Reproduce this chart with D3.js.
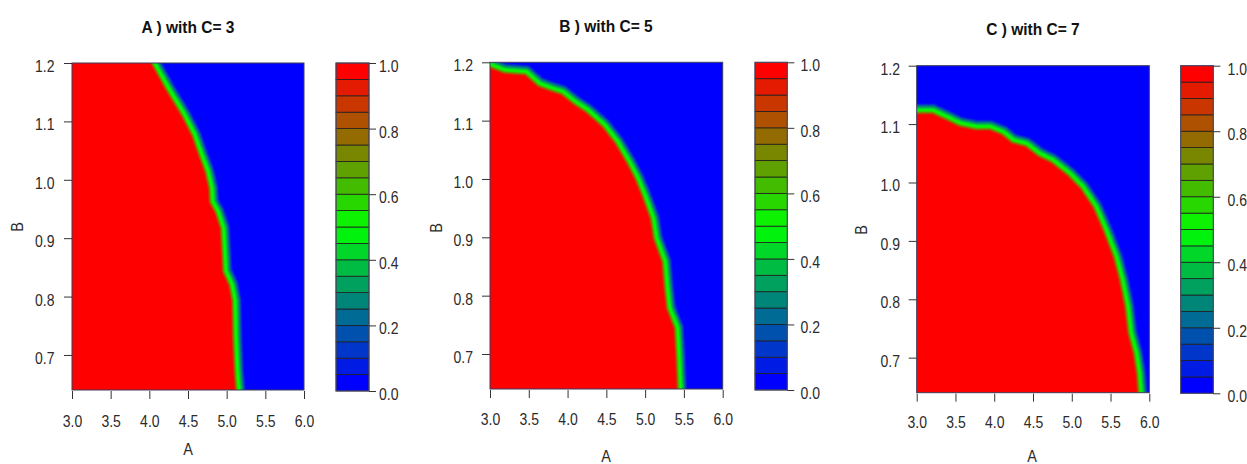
<!DOCTYPE html>
<html>
<head>
<meta charset="utf-8">
<script src="https://cdn.jsdelivr.net/npm/d3@7"></script>
<style>
  html, body { margin: 0; padding: 0; background: #ffffff; overflow: hidden; }
  svg { display: block; }
  text { font-family: "Liberation Sans", Arial, sans-serif; }
</style>
</head>
<body>
<svg id="chart" width="1247" height="464"></svg>
<script>
// ---- data ----------------------------------------------------------------
const panelTitles = ["A ) with C= 3", "B ) with C= 5", "C ) with C= 7"];
const xTicks = [3.0, 3.5, 4.0, 4.5, 5.0, 5.5, 6.0];
const yTicks = [0.7, 0.8, 0.9, 1.0, 1.1, 1.2];
const legendTicks = [0.0, 0.2, 0.4, 0.6, 0.8, 1.0];
const xDomain = [3.0, 6.0];
const yDomain = [0.64, 1.2];
const levelCount = 20;

// Edge of the region where the response is 1 (A value for each B, top to bottom)
const edgeC3A = [4.07, 4.25, 4.46, 4.59, 4.68, 4.76, 4.81, 4.82, 4.89, 4.96, 4.98, 4.99, 5.07, 5.11, 5.12, 5.14, 5.16];
const edgeC3B = [1.200, 1.157, 1.111, 1.077, 1.043, 1.015, 0.986, 0.963, 0.946, 0.918, 0.872, 0.844, 0.821, 0.793, 0.730, 0.673, 0.640];

const edgeC5A = [3.00, 3.19, 3.47, 3.64, 3.80, 3.94, 4.10, 4.27, 4.48, 4.65, 4.80, 4.91, 5.00, 5.11, 5.15, 5.26, 5.29, 5.32, 5.42, 5.44, 5.46];
const edgeC5B = [1.197, 1.187, 1.184, 1.164, 1.156, 1.150, 1.133, 1.118, 1.093, 1.064, 1.030, 1.002, 0.973, 0.933, 0.899, 0.859, 0.814, 0.779, 0.745, 0.700, 0.640];

const edgeC7A = [3.00, 3.21, 3.39, 3.56, 3.77, 3.95, 4.12, 4.25, 4.42, 4.59, 4.76, 4.98, 5.15, 5.32, 5.45, 5.58, 5.66, 5.73, 5.77, 5.84, 5.88, 5.90];
const edgeC7B = [1.124, 1.124, 1.113, 1.102, 1.096, 1.096, 1.087, 1.073, 1.067, 1.050, 1.039, 1.016, 0.993, 0.959, 0.919, 0.874, 0.834, 0.788, 0.743, 0.708, 0.674, 0.640];

// ---- layout --------------------------------------------------------------
const panels = [
  { title: panelTitles[0], edgeA: edgeC3A, edgeB: edgeC3B,
    plot: [72, 304, 63, 390], bar: [336, 369, 63, 391],
    titlePos: [188, 33], xlabPos: [188, 455], ylabPos: [23, 227],
    xTickBase: 36.5, yTickGap: 17.5, barLabelX: 379 },
  { title: panelTitles[1], edgeA: edgeC5A, edgeB: edgeC5B,
    plot: [490, 722.7, 62.3, 389], bar: [755, 787.3, 62.3, 390],
    titlePos: [606, 32], xlabPos: [606, 462], ylabPos: [441.5, 228],
    xTickBase: 36, yTickGap: 17, barLabelX: 800.5 },
  { title: panelTitles[2], edgeA: edgeC7A, edgeB: edgeC7B,
    plot: [916.7, 1149.3, 65.7, 392.7], bar: [1180.7, 1213.3, 65.7, 393.3],
    titlePos: [1033, 35], xlabPos: [1032, 462], ylabPos: [866.5, 230],
    xTickBase: 35.5, yTickGap: 16.7, barLabelX: 1227.5 }
];

const STRETCH = 1.16;      // glyphs are drawn slightly taller than wide
const TICK_FONT = 14;
const LABEL_COLOR = "#2b2b2b";

// continuous blue -> green -> red ramp and its 20-step version for the key
const ramp = d3.scaleLinear()
  .domain([0, 0.5, 1])
  .range(["#0000ff", "#00ff00", "#ff0000"])
  .interpolate(d3.interpolateRgb)
  .clamp(true);
const levels = d3.quantize(t => ramp(t), levelCount);

// lookup table for pixel colouring
const LUT = d3.range(256).map(i => d3.rgb(ramp(i / 255)));

const svg = d3.select("#chart");

function stretchedText(g, x, y, str, size, opts = {}) {
  return g.append("text")
    .attr("transform", `translate(${x},${y})${opts.rotate ? " rotate(-90)" : ""} scale(1,${opts.stretch ?? STRETCH})`)
    .attr("text-anchor", opts.anchor || "middle")
    .attr("font-size", size)
    .attr("font-weight", opts.weight || "normal")
    .attr("fill", opts.fill || LABEL_COLOR)
    .text(str);
}

// distance from point p to segment ab
function segDist(p, a, b) {
  const dx = b[0] - a[0], dy = b[1] - a[1];
  const len2 = dx * dx + dy * dy;
  let t = len2 ? ((p[0] - a[0]) * dx + (p[1] - a[1]) * dy) / len2 : 0;
  t = Math.max(0, Math.min(1, t));
  const ex = a[0] + t * dx - p[0], ey = a[1] + t * dy - p[1];
  return Math.sqrt(ex * ex + ey * ey);
}

const clamp01 = u => Math.max(0, Math.min(1, u));

// response value from signed pixel distance to the edge (positive inside)
function responseAt(s) {
  if (s >= 0) return 0.5 + 0.5 * clamp01((s - 0.5) / 4.2);
  return 0.5 - 0.5 * clamp01((-s - 0.5) / 6.5);
}

panels.forEach(p => {
  const [px0, px1, py0, py1] = p.plot;
  const x = d3.scaleLinear().domain(xDomain).range([px0, px1]);
  const y = d3.scaleLinear().domain(yDomain).range([py1, py0]);
  const g = svg.append("g");

  // ---- response surface --------------------------------------------------
  const w = Math.round(px1 - px0), h = Math.round(py1 - py0);
  const canvas = document.createElement("canvas");
  canvas.width = w; canvas.height = h;
  const ctx = canvas.getContext("2d");
  const img = ctx.createImageData(w, h);

  const pts = p.edgeA.map((a, i) => [x(a) - px0, y(p.edgeB[i]) - py0]);
  const first = pts[0], last = pts[pts.length - 1];
  const poly = pts.slice();
  poly.push([last[0], h + 1000], [-1000, h + 1000]);
  if (p.edgeA[0] <= xDomain[0] + 1e-9) {
    poly.push([-1000, first[1]]);
  } else {
    poly.push([-1000, -1000], [first[0], -1000]);
  }

  for (let j = 0; j < h; j++) {
    for (let i = 0; i < w; i++) {
      const c = [i + 0.5, j + 0.5];
      let d = Infinity;
      for (let k = 0; k < pts.length - 1; k++) {
        const dd = segDist(c, pts[k], pts[k + 1]);
        if (dd < d) d = dd;
      }
      const inside = d3.polygonContains(poly, c);
      const v = responseAt(inside ? d : -d);
      const col = LUT[Math.round(v * 255)];
      const o = (j * w + i) * 4;
      img.data[o] = col.r; img.data[o + 1] = col.g; img.data[o + 2] = col.b; img.data[o + 3] = 255;
    }
  }
  ctx.putImageData(img, 0, 0);

  g.append("image")
    .attr("x", px0).attr("y", py0)
    .attr("width", px1 - px0).attr("height", py1 - py0)
    .attr("preserveAspectRatio", "none")
    .attr("href", canvas.toDataURL());

  g.append("rect")
    .attr("x", px0).attr("y", py0)
    .attr("width", px1 - px0).attr("height", py1 - py0)
    .attr("fill", "none").attr("stroke", "#3c3c5a").attr("stroke-width", 1);

  // ---- axes --------------------------------------------------------------
  const xAxis = g.append("g")
    .attr("transform", `translate(0,${py1 + 1})`)
    .call(d3.axisBottom(x).tickValues(xTicks).tickSize(8).tickSizeOuter(0).tickFormat(d3.format(".1f")));
  xAxis.select(".domain").remove();
  xAxis.selectAll(".tick line").attr("stroke", "#333");
  xAxis.selectAll(".tick text")
    .attr("y", null).attr("dy", null)
    .attr("transform", `translate(0,${p.xTickBase - 1}) scale(1,${STRETCH})`)
    .attr("font-size", TICK_FONT).attr("fill", LABEL_COLOR)
    .attr("font-family", "Liberation Sans, Arial, sans-serif");

  const yAxis = g.append("g")
    .attr("transform", `translate(${px0},0)`)
    .call(d3.axisLeft(y).tickValues(yTicks).tickSize(8).tickSizeOuter(0).tickFormat(d3.format(".1f")));
  yAxis.select(".domain").remove();
  yAxis.selectAll(".tick line").attr("stroke", "#333");
  yAxis.selectAll(".tick text")
    .attr("x", null).attr("dy", null)
    .attr("transform", `translate(${-p.yTickGap},8.5) scale(1,${STRETCH})`)
    .attr("font-size", TICK_FONT).attr("fill", LABEL_COLOR)
    .attr("font-family", "Liberation Sans, Arial, sans-serif");

  // ---- titles and axis names ---------------------------------------------
  stretchedText(g, p.titlePos[0], p.titlePos[1], p.title, 15.5, { weight: "bold", fill: "#111", stretch: 1.06 });
  stretchedText(g, p.xlabPos[0], p.xlabPos[1], "A", 14.5);
  stretchedText(g, p.ylabPos[0], p.ylabPos[1], "B", 14.5, { rotate: true });

  // ---- colour key --------------------------------------------------------
  const [bx0, bx1, by0, by1] = p.bar;
  const yb = d3.scaleLinear().domain([0, 1]).range([by1, by0]);
  g.append("g").selectAll("rect")
    .data(levels)
    .join("rect")
    .attr("x", bx0)
    .attr("width", bx1 - bx0)
    .attr("y", (d, i) => yb((i + 1) / levelCount))
    .attr("height", (d, i) => yb(i / levelCount) - yb((i + 1) / levelCount))
    .attr("fill", d => d)
    .attr("stroke", "#1e1e1e")
    .attr("stroke-width", 0.8);
  g.append("rect")
    .attr("x", bx0).attr("y", by0)
    .attr("width", bx1 - bx0).attr("height", by1 - by0)
    .attr("fill", "none").attr("stroke", "#50506e").attr("stroke-width", 1);

  const bAxis = g.append("g")
    .attr("transform", `translate(${bx1},0)`)
    .call(d3.axisRight(yb).tickValues(legendTicks).tickSize(7).tickSizeOuter(0).tickFormat(d3.format(".1f")));
  bAxis.select(".domain").remove();
  bAxis.selectAll(".tick line").attr("stroke", "#333");
  bAxis.selectAll(".tick text")
    .attr("x", null).attr("dy", null)
    .attr("text-anchor", "start")
    .attr("transform", `translate(${p.barLabelX - bx1},8.5) scale(1,${STRETCH})`)
    .attr("font-size", TICK_FONT).attr("fill", LABEL_COLOR)
    .attr("font-family", "Liberation Sans, Arial, sans-serif");
});
</script>
</body>
</html>
